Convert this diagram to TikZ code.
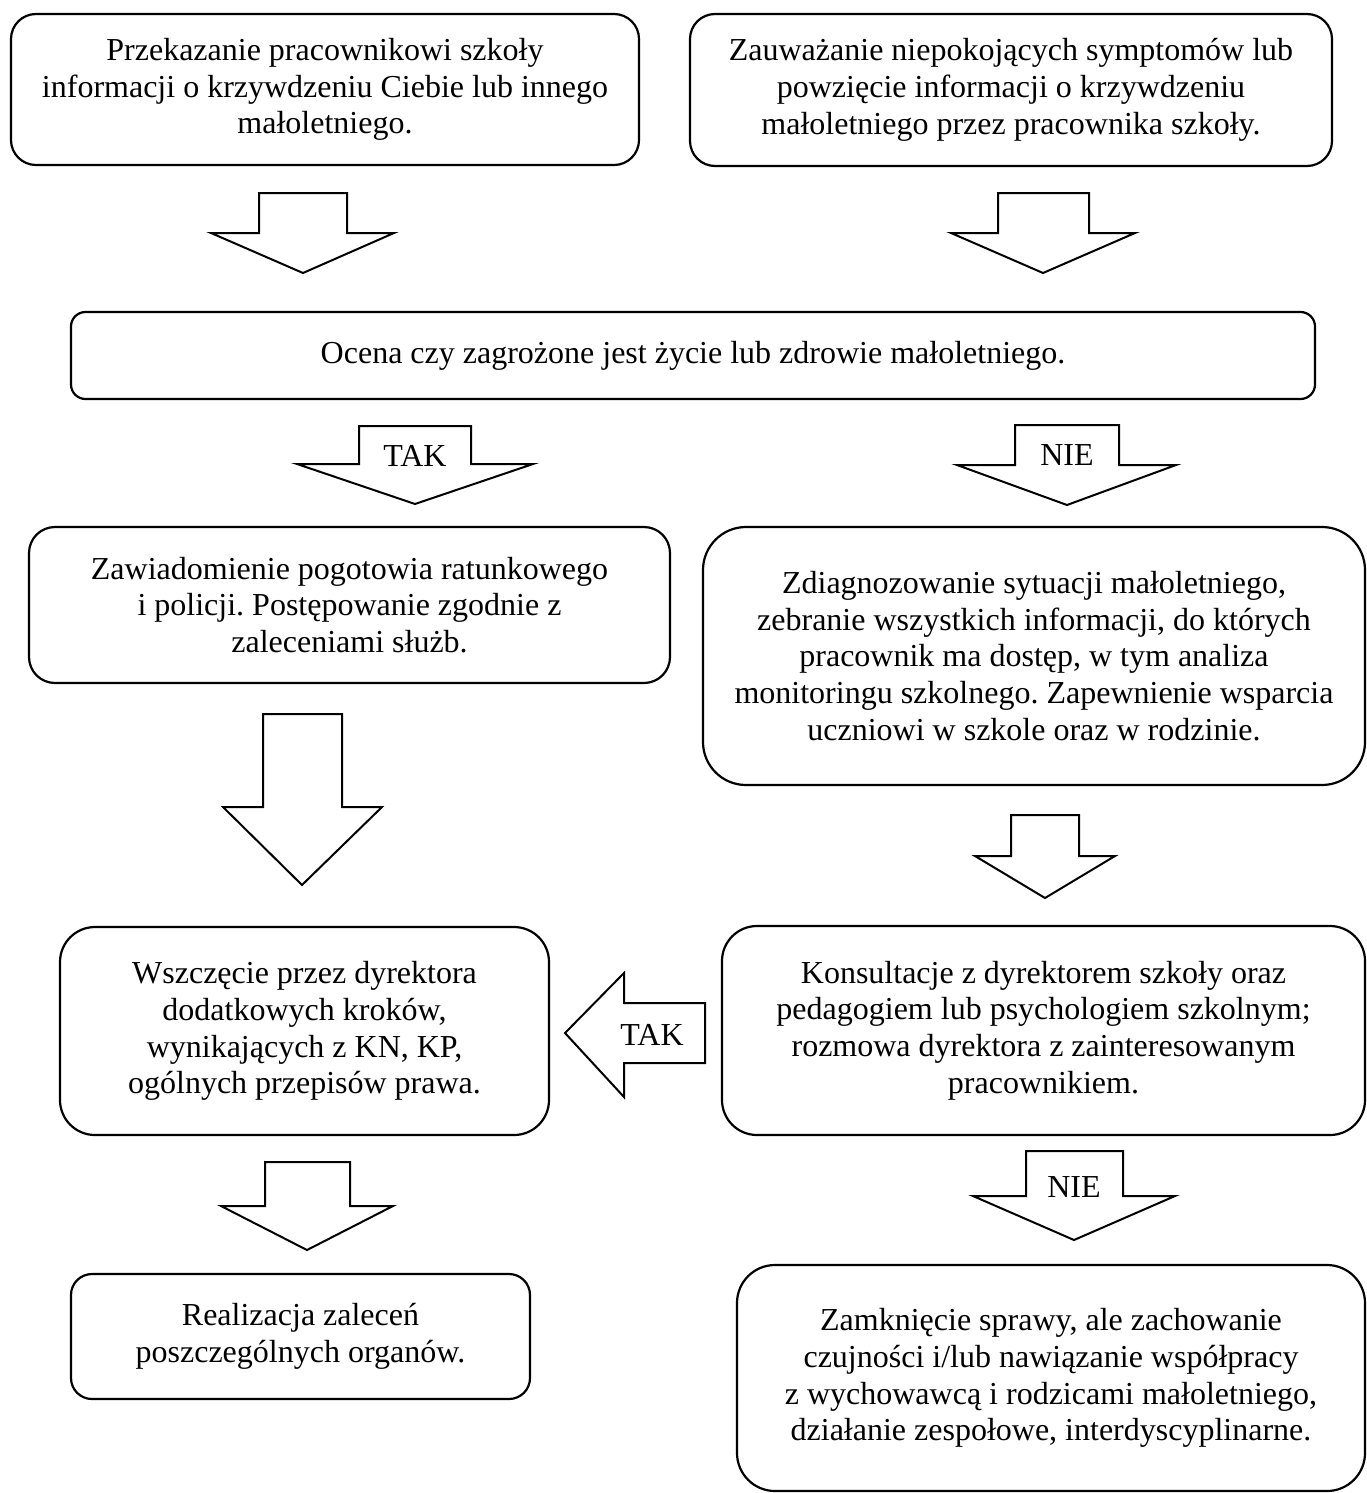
\documentclass[tikz,border=0pt]{standalone}
\usepackage{fontspec}
\setmainfont{Liberation Serif}
\frenchspacing

\begin{document}
\begin{tikzpicture}[x=1pt, y=-1pt,
        b/.style={rectangle, draw, line width=2.2pt, rounded corners=#1, align=center,
                  inner sep=0pt, font=\fontsize{32}{36.8}\selectfont},
        b/.default=25pt,
        arr/.style={draw, line width=2pt, line join=miter},
        lbl/.style={inner sep=0pt, font=\fontsize{32}{36.8}\selectfont}]
      \useasboundingbox (0,0) rectangle (1367,1493);
      \node[b, minimum width=628pt, minimum height=151pt] (zgl) at (325,89.5)
        {Przekazanie pracownikowi szkoły\\informacji o krzywdzeniu Ciebie lub innego\\małoletniego.};
      \node[b, minimum width=642pt, minimum height=152pt] (zauw) at (1011,90)
        {Zauważanie niepokojących symptomów lub\\powzięcie informacji o krzywdzeniu\\małoletniego przez pracownika szkoły.};
      \node[b=14.5pt, minimum width=1244pt, minimum height=87pt] (ocena) at (693,355.5)
        {Ocena czy zagrożone jest życie lub zdrowie małoletniego.};
      \node[b=26pt, minimum width=641pt, minimum height=156pt] (pogot) at (349.5,605)
        {Zawiadomienie pogotowia ratunkowego\\i policji. Postępowanie zgodnie z\\zaleceniami służb.};
      \node[b=43pt, minimum width=662pt, minimum height=258pt] (diagn) at (1034,656)
        {Zdiagnozowanie sytuacji małoletniego,\\zebranie wszystkich informacji, do których\\pracownik ma dostęp, w tym analiza\\monitoringu szkolnego. Zapewnienie wsparcia\\uczniowi w szkole oraz w rodzinie.};
      \node[b=35pt, minimum width=489pt, minimum height=208pt] (dyrekt) at (304.5,1031)
        {Wszczęcie przez dyrektora\\dodatkowych kroków,\\wynikających z KN, KP,\\ogólnych przepisów prawa.};
      \node[b=35pt, minimum width=643pt, minimum height=209pt] (konsult) at (1043.5,1030.5)
        {Konsultacje z dyrektorem szkoły oraz\\pedagogiem lub psychologiem szkolnym;\\rozmowa dyrektora z zainteresowanym\\pracownikiem.};
      \node[b=21pt, minimum width=459pt, minimum height=125pt] (realiz) at (300.5,1336.5)
        {Realizacja zaleceń\\poszczególnych organów.};
      \node[b=38pt, minimum width=628pt, minimum height=226pt] (zamk) at (1051,1378)
        {Zamknięcie sprawy, ale zachowanie\\czujności i/lub nawiązanie współpracy\\z wychowawcą i rodzicami małoletniego,\\działanie zespołowe, interdyscyplinarne.};
      \draw[arr] (259,193) -- (347,193) -- (347,233) -- (394,233) -- (303,273) -- (211,233) -- (259,233) -- cycle;
      \draw[arr] (998,193) -- (1089,193) -- (1089,233) -- (1135,233) -- (1043,273) -- (951,233) -- (998,233) -- cycle;
      \draw[arr] (359,426) -- (471,426) -- (471,464) -- (533,464) -- (415,504) -- (297,464) -- (359,464) -- cycle;
      \draw[arr] (1015,425) -- (1119,425) -- (1119,465) -- (1176,465) -- (1067,505) -- (957,465) -- (1015,465) -- cycle;
      \draw[arr] (263,714) -- (342,714) -- (342,807) -- (382,807) -- (302,885) -- (223,807) -- (263,807) -- cycle;
      \draw[arr] (1011,815) -- (1079,815) -- (1079,856) -- (1115,856) -- (1045,898) -- (975,856) -- (1011,856) -- cycle;
      \draw[arr] (705,1003) -- (705,1063) -- (624,1063) -- (624,1097) -- (565,1033) -- (624,973) -- (624,1003) -- cycle;
      \draw[arr] (265,1162) -- (350,1162) -- (350,1206) -- (393,1206) -- (307,1250) -- (221,1206) -- (265,1206) -- cycle;
      \draw[arr] (1026,1151) -- (1123,1151) -- (1123,1196) -- (1175,1196) -- (1074,1240) -- (973,1196) -- (1026,1196) -- cycle;
      \node[lbl] (tak1) at (415,456) {TAK};
      \node[lbl] (nie1) at (1067,455) {NIE};
      \node[lbl] (tak2) at (652,1035) {TAK};
      \node[lbl] (nie2) at (1074,1187) {NIE};
    \end{tikzpicture}
\end{document}
